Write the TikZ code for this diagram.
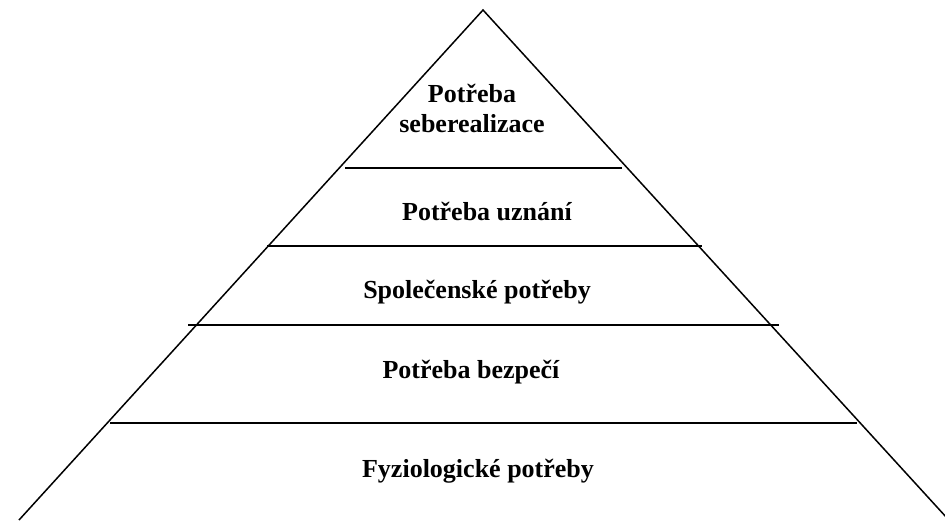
\documentclass[tikz,border=0pt]{standalone}
\usepackage{fontspec}
\setmainfont{Liberation Serif}
\tikzset{
  stupen/.style={anchor=base, font=\bfseries\fontsize{13}{15}\selectfont, inner sep=0pt, align=center},
}
\begin{document}
\begin{tikzpicture}[x=0.5pt,y=-0.5pt]
\useasboundingbox (0, 0) rectangle (945, 520);
% Pyramid outline
\coordinate (vrchol) at (483, 10);
\coordinate (levy) at (19, 520);
\coordinate (pravy) at (947, 518);
\draw[ line width=0.75pt, ] (levy) -- (vrchol) -- (pravy);
% Level Separators
   \draw[ line width=0.9pt, ] (345, 168) -- (622, 168);
   \draw[ line width=0.9pt, ] (267, 246) -- (702, 246);
   \draw[ line width=0.9pt, ] (188, 325) -- (779, 325);
   \draw[ line width=0.9pt, ] (110, 423) -- (857, 423);
   %
   % Level Labels:
   \node[stupen] (seberealizace) at (472, 132) {Potřeba\\[0pt]seberealizace};
   \node[stupen] (uznani) at (487, 220) {Potřeba uznání};
   \node[stupen] (spolecenske) at (477, 298) {Společenské potřeby};
   \node[stupen] (bezpeci) at (471, 378) {Potřeba bezpečí};
   \node[stupen] (fyziologicke) at (478, 477) {Fyziologické potřeby};
\end{tikzpicture}
\end{document}
